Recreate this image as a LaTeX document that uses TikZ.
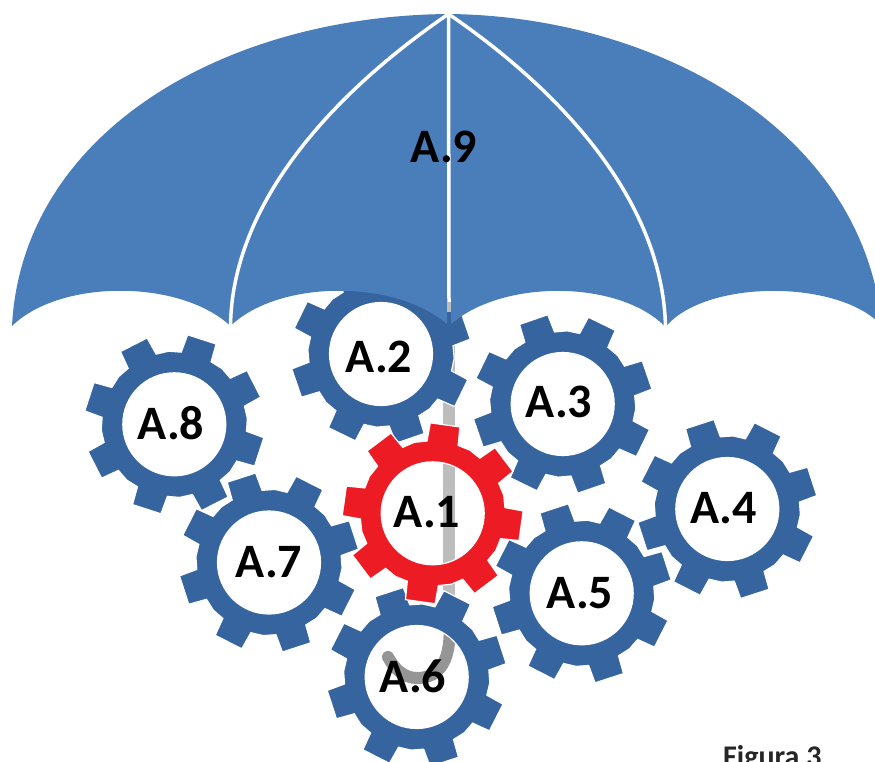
\documentclass[tikz,border=0pt]{standalone}
\usepackage{fontspec}
\setmainfont{Carlito}
\definecolor{canopy}{HTML}{4A7EBB}
\definecolor{gearblue}{HTML}{35649E}
\definecolor{gearred}{HTML}{ED1C24}
\definecolor{handlelight}{HTML}{BDBDBD}
\definecolor{handledark}{HTML}{959595}
\tikzset{
  gearlabel/.style={inner sep=0pt,text=black,font=\fontsize{48}{48}\selectfont\bfseries},
  rib/.style={draw=white,line width=3.5pt},
}
\newcommand{\gearshape}[4]{%
  \filldraw[fill=#4,draw=white,line width=1.2pt,even odd rule,shift={(#1,#2)}] ({#3-12.5}:72.5)
    \foreach \k [evaluate=\k as \a using #3+45*\k] in {0,...,7} {
      -- ({\a-12.5}:72.5) -- ({\a-9.5}:90.5) -- ({\a+9.5}:90.5) -- ({\a+12.5}:72.5) -- ({\a+22.5}:73.3)
    } -- cycle (0,0) circle (51.5);}
\begin{document}
\begin{tikzpicture}[x=1pt,y=-1pt]
\useasboundingbox (0,0) rectangle (875,762);
\clip (0,0) rectangle (875,762);
\coordinate (apex) at (448.5,14);
\coordinate (ribL) at (230.5,326);
\coordinate (ribC) at (449,326);
\coordinate (ribR) at (665.5,327);
% handle
\draw[handlelight,line width=12pt] (449,300) -- (449,612);
\draw[handledark,line width=12pt,line cap=round] (449,612) .. controls (451,640) and (451,678) .. (417,678) .. controls (403,678) and (394,668) .. (388,657);
% gears
\gearshape{381}{354}{26}{gearblue}
\gearshape{562.7}{404}{26}{gearblue}
\gearshape{727.3}{509}{27}{gearblue}
\gearshape{581.7}{593.3}{27}{gearblue}
\gearshape{416.7}{677}{27}{gearblue}
\gearshape{174.3}{424.3}{18}{gearblue}
\gearshape{269}{562.5}{27}{gearblue}
\gearshape{432.7}{513.3}{8}{gearred}
% canopy
\fill[canopy] (12,326) .. controls (22,135) and (220,16) .. (apex)
  .. controls (650,16) and (862,125) .. (882,326)
  .. controls (840,279) and (705,279) .. (ribR)
  .. controls (619,279) and (499,279) .. (ribC)
  .. controls (399,279) and (279,279) .. (ribL)
  .. controls (180,279) and (60,279) .. (12,326) -- cycle;
\draw[rib] (apex) .. controls (330,95) and (232,205) .. (ribL);
\draw[rib] (apex) .. controls (567,95) and (663,205) .. (ribR);
\coordinate (ribC1) at (449,302);
\coordinate (ribC2) at (449,312);
\draw[rib] (apex) -- (ribC1);
\draw[handlelight,line width=3.5pt] (ribC1) -- (ribC2);
\draw[gearblue,line width=3.5pt] (ribC2) -- (ribC);
% labels
\node[gearlabel] (a9) at (444,146.5) {A.9};
\node[gearlabel] (a2) at (379,357) {A.2};
\node[gearlabel] (a3) at (559,401.7) {A.3};
\node[gearlabel] (a4) at (723.5,508.5) {A.4};
\node[gearlabel] (a5) at (580,593) {A.5};
\node[gearlabel] (a6) at (413,676) {A.6};
\node[gearlabel] (a7) at (269,562.5) {A.7};
\node[gearlabel] (a8) at (171,423.5) {A.8};
\node[gearlabel] (a1) at (427,512.5) {A.1};
\node[inner sep=0pt,anchor=base west,font=\fontsize{30}{30}\selectfont\bfseries,text=black!85] (fig) at (723,766) {Figura 3};
\end{tikzpicture}
\end{document}
